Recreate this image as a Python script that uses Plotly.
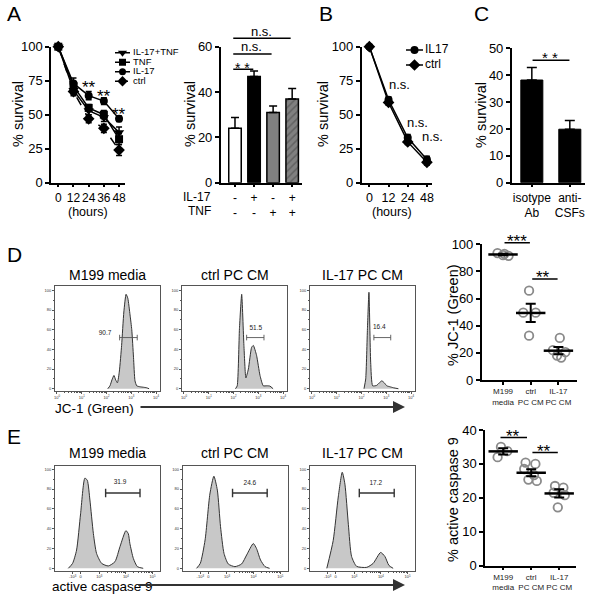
import math
import plotly.graph_objects as go

W, H = 596, 600
FONT = "Liberation Sans, Arial, Helvetica, sans-serif"


def fx(p):
    return p / W


def fy(p):
    return 1 - p / H


# ======================= DATA =======================
# Panel A – time course (% survival)
hours_A = [0, 12, 24, 36, 48]
A_il17tnf = [100, 68, 53, 48, 37]
A_il17tnf_err = [0, 3, 3, 3, 4]
A_tnf = [100, 71, 55, 50, 32]
A_tnf_err = [0, 3, 2.5, 3, 4]
A_il17 = [100, 73, 64, 60, 47]
A_il17_err = [0, 4, 3, 2.5, 2]
A_ctrl = [100, 67, 47, 40, 24]
A_ctrl_err = [0, 3, 3, 3, 4]
A_star_hours = [24, 36, 48]
A_star_y = [74.6, 67.8, 55]

# Panel A – bar chart at 48 h
barA_il17 = ["-", "+", "-", "+"]
barA_tnf = ["-", "-", "+", "+"]
barA_vals = [24, 46.8, 31, 36.9]
barA_err = [4.8, 2.5, 2.8, 4.7]
barA_colors = ["white", "black", "#808080", "#808080"]
barA_pattern = ["", "", "", "/"]
barA_sig_x0 = [-0.17, -0.17, -0.17]
barA_sig_x1 = [0.96, 1.92, 2.92]
barA_sig_y = [50, 56.8, 63.7]
barA_sig_txt = ["* *", "n.s.", "n.s."]
barA_sig_txt_y = [52.7, 60, 66.6]

# Panel B
hours_B = ["0", "12", "24", "48"]
B_il17 = [100, 61, 33, 17]
B_il17_err = [0, 2, 2.5, 2.5]
B_ctrl = [100, 59, 30, 15]
B_ctrl_err = [0, 2, 2, 2]
B_ns_x = [1.56, 2.52, 3.31]
B_ns_y = [72, 44, 34]

# Panel C
C_labels = ["isotype<br>Ab", "anti-<br>CSFs"]
C_vals = [38.2, 19.9]
C_err = [4.7, 3.2]
C_sig_y = 45.6
C_sig_txt_y = 48.7

# Panel D – JC-1 histograms (x = log10 fluorescence, y = % of max)
D_titles = ["M199 media", "ctrl PC CM", "IL-17 PC CM"]
D1_log = [2.05, 2.14, 2.22, 2.3, 2.37, 2.44, 2.52, 2.61, 2.7, 2.79, 2.86, 2.95, 3.02, 3.09, 3.15, 3.22, 3.35, 3.5, 3.62, 3.72]
D1_pct = [0, 3, 9, 13.5, 9, 6, 18, 44, 78, 96, 92, 75, 60, 32, 8, 3, 2, 1.5, 1, 0]
D2_log = [2.08, 2.15, 2.24, 2.33, 2.42, 2.5, 2.6, 2.73, 2.8, 2.93, 3.07, 3.2, 3.35, 3.47, 3.6]
D2_pct = [0, 3, 61, 96, 44, 11, 20, 42, 44, 34, 13.5, 3, 3, 2.7, 0]
D3_log = [2.1, 2.17, 2.24, 2.3, 2.37, 2.45, 2.61, 2.72, 2.82, 2.92, 3.02, 3.15, 3.29, 3.49]
D3_pct = [0, 10, 61, 98, 27, 3, 3.4, 6, 8, 6, 3, 2, 1, 0]
D_gate_lbl = ["90.7", "51.5", "16.4"]
D_gate_lo = [2.53, 2.53, 2.5]
D_gate_hi = [3.24, 3.23, 3.18]
D_gate_y = [52, 52, 52]
D_gate_txt_x = [1.94, 2.9, 2.72]
D_gate_txt_y = [56, 61, 62]

# Panel D – % JC-1 (Green) dot plot
D_groups = ["M199<br>media", "ctrl<br>PC CM", "IL-17<br>PC CM"]
D_pts = [[93.5, 92.0, 91.5, 93.0], [65.8, 49.6, 49.6, 32.7], [31, 22, 20.5, 18, 16.5]]
D_pts_dx = [[-0.2, 0.0, 0.2, 0.05], [-0.06, -0.27, 0.18, -0.06], [0.05, -0.2, 0.25, -0.05, 0.1]]
D_mean = [92.5, 49.4, 21.6]
D_sem = [0.6, 6.7, 2.7]
D_sig_x0 = [0.0, 1.0]
D_sig_x1 = [0.97, 1.97]
D_sig_y = [101.2, 74.4]
D_sig_txt = ["***", "**"]
D_sig_txt_x = [0.5, 1.45]
D_sig_txt_y = [106.9, 79.8]

# Panel E – active caspase 9 histograms (x = biexponential display scale)
E_titles = ["M199 media", "ctrl PC CM", "IL-17 PC CM"]
E1_pos = [1.84, 2.0, 2.15, 2.3, 2.46, 2.55, 2.65, 2.78, 2.9, 3.09, 3.34, 3.59, 3.78, 4.0, 4.09, 4.15, 4.28, 4.43, 4.65]
E1_pct = [0, 5, 18.5, 55, 91, 89, 69, 35, 15, 5, 2.4, 6.7, 22, 38, 35, 25, 10, 1.7, 0]
E2_pos = [1.86, 2.0, 2.18, 2.36, 2.51, 2.64, 2.76, 2.89, 3.05, 3.3, 3.55, 3.74, 3.99, 4.11, 4.26, 4.43, 4.6]
E2_pct = [0, 5, 28.6, 75, 93, 79, 42, 15, 4.4, 1.7, 4.4, 13.5, 25, 20, 8.4, 1.7, 0]
E3_pos = [1.97, 2.21, 2.4, 2.55, 2.65, 2.78, 2.9, 3.09, 3.47, 3.71, 3.99, 4.15, 4.3, 4.46]
E3_pct = [0, 28, 72, 97, 85, 44, 12, 2, 1, 5, 16, 12, 3, 0]
E_gate_lbl = ["31.9", "24.6", "17.2"]
E_gate_lo = [3.24, 3.21, 3.19]
E_gate_hi = [4.53, 4.51, 4.5]
E_gate_y = [76, 76, 76]
E_gate_txt_x = [3.78, 3.86, 3.81]
E_gate_txt_y = [86.5, 86, 86]
E_tickvals = [2.0, 2.3, 3, 4, 5]
E_ticktext = ["-10<sup>3</sup>", "0", "10<sup>3</sup>", "10<sup>4</sup>", "10<sup>5</sup>"]

# Panel E – % active caspase 9 dot plot
E_groups = ["M199<br>media", "ctrl<br>PC CM", "IL-17<br>PC CM"]
E_pts = [[35, 33.8, 32], [30.4, 30.0, 28.5, 26.7, 25.4, 25.0], [23.5, 23.0, 21.5, 20.8, 17.2]]
E_pts_dx = [[-0.08, 0.15, -0.2], [-0.2, 0.15, -0.25, 0.1, -0.1, 0.2], [-0.15, 0.15, -0.2, 0.2, -0.05]]
E_mean = [33.7, 27.4, 21.3]
E_sem = [0.9, 1.0, 1.2]
E_sig_x0 = [-0.15, 0.99]
E_sig_x1 = [0.85, 1.95]
E_sig_y = [37.8, 33.4]
E_sig_txt = ["**", "**"]
E_sig_txt_x = [0.35, 1.47]
E_sig_txt_y = [39.8, 35.6]

# ======================= FIGURE =======================
fig = go.Figure()
layout = {}
annotations = []
geom = {}


def key(n):
    return "" if n == 1 else str(n)


BASE = dict(showline=True, linecolor="black", linewidth=1.5, ticks="outside", ticklen=4,
            tickwidth=1.5, tickcolor="black", showgrid=False, zeroline=False,
            tickfont=dict(size=13, color="black", family=FONT), fixedrange=True,
            automargin=False, tickangle=0)

HIST = dict(showline=True, mirror=True, linecolor="#555", linewidth=0.8, ticks="outside",
            ticklen=2, tickwidth=0.6, tickcolor="#555", showgrid=False, zeroline=False,
            tickfont=dict(size=4, color="#333", family=FONT), fixedrange=True,
            automargin=False, tickangle=0)


def add_axes(n, xpx, ypx, xr, yr, base=BASE, xkw=None, ykw=None):
    k = key(n)
    geom[n] = (xpx, ypx, xr, yr)
    xa = dict(base, domain=[fx(xpx[0]), fx(xpx[1])], range=xr, anchor="y" + k)
    ya = dict(base, domain=[fy(ypx[1]), fy(ypx[0])], range=yr, anchor="x" + k)
    if xkw:
        xa.update(xkw)
    if ykw:
        ya.update(ykw)
    layout["xaxis" + k] = xa
    layout["yaxis" + k] = ya


def add_overlay(n_main, n_ov, ext_top, ext_right=None):
    """Invisible axes with the same scale as n_main but extended upward/rightward,
    so that annotations above the plotted range stay visible."""
    xpx, ypx, xr, yr = geom[n_main]
    upp_y = (yr[1] - yr[0]) / (ypx[1] - ypx[0])
    new_yr = [yr[0], yr[0] + (ypx[1] - ext_top) * upp_y]
    new_xpx = xpx
    new_xr = xr
    if ext_right is not None:
        upp_x = (xr[1] - xr[0]) / (xpx[1] - xpx[0])
        new_xpx = (xpx[0], ext_right)
        new_xr = [xr[0], xr[0] + (ext_right - xpx[0]) * upp_x]
    add_axes(n_ov, new_xpx, (ext_top, ypx[1]), new_xr, new_yr,
             xkw=dict(visible=False), ykw=dict(visible=False))


def refs(n):
    k = key(n)
    return dict(xaxis="x" + k, yaxis="y" + k)


def ann_text(n, x, y, text, size=13, star=False, **kw):
    k = key(n)
    d = dict(x=x, y=y, xref="x" + k, yref="y" + k, text=text, showarrow=False,
             font=dict(size=size, color="black", family=FONT))
    if star:
        d["yshift"] = -0.36 * size
    d.update(kw)
    annotations.append(d)


def sig_line(n, x0, x1, y, width=1.5):
    k = key(n)
    annotations.append(dict(x=x1, y=y, ax=x0, ay=y, xref="x" + k, yref="y" + k,
                            axref="x" + k, ayref="y" + k, showarrow=True, arrowhead=0,
                            arrowwidth=width, arrowcolor="black", text="",
                            standoff=0, startstandoff=0))


def paper_text(x, y, text, size=13, angle=0, xanchor="center", color="black"):
    annotations.append(dict(x=fx(x), y=fy(y), xref="paper", yref="paper", text=text,
                            showarrow=False, textangle=angle, xanchor=xanchor,
                            yanchor="middle", font=dict(size=size, color=color, family=FONT)))


# ---------- Panel A: time course ----------
add_axes(1, (51, 125), (46.7, 182.7), [-5.77, 52.7], [0, 100],
         xkw=dict(tickvals=hours_A, ticklen=3, tickfont=dict(size=12, color="black", family=FONT)),
         ykw=dict(tickvals=[0, 25, 50, 75, 100]))
A_series = [
    ("ctrl", A_ctrl, A_ctrl_err, "diamond", "dash", 9),
    ("TNF", A_tnf, A_tnf_err, "square", "solid", 8),
    ("IL-17+TNF", A_il17tnf, A_il17tnf_err, "triangle-down", "solid", 9),
    ("IL-17", A_il17, A_il17_err, "circle", "solid", 8),
]
for name, vals, err, sym, dash, sz in A_series:
    fig.add_trace(go.Scatter(
        x=hours_A, y=vals, mode="lines+markers", name=name, cliponaxis=False,
        line=dict(color="black", width=1.5, dash=dash),
        marker=dict(symbol=sym, size=sz, color="black"),
        error_y=dict(type="data", array=err, color="black", thickness=1.5, width=3),
        **refs(1)))
for hx, hy in zip(A_star_hours, A_star_y):
    ann_text(1, hx, hy, "**", size=17, star=True)

# legend for A (own invisible axes)
add_axes(13, (115, 175), (48, 86), [0, 60], [3.5, -0.5],
         xkw=dict(visible=False), ykw=dict(visible=False))
A_legend = [
    ("IL-17+TNF", "triangle-down", "solid", 8),
    ("TNF", "square", "solid", 7),
    ("IL-17", "circle", "solid", 7),
    ("ctrl", "diamond", "dash", 8),
]
for i, (name, sym, dash, sz) in enumerate(A_legend):
    fig.add_trace(go.Scatter(x=[0, 15], y=[i, i], mode="lines",
                             line=dict(color="black", width=1.5,
                                       dash="3px,2px" if dash == "dash" else "solid"),
                             **refs(13)))
    fig.add_trace(go.Scatter(x=[7.5], y=[i], mode="markers", cliponaxis=False,
                             marker=dict(symbol=sym, size=sz, color="black"), **refs(13)))
fig.add_trace(go.Scatter(x=[18] * 4, y=list(range(4)), mode="text",
                         text=[a[0] for a in A_legend], textposition="middle right",
                         cliponaxis=False,
                         textfont=dict(size=9.5, color="black", family=FONT), **refs(13)))
paper_text(88, 212, "(hours)", size=12.5)
paper_text(18, 114, "% survival", size=14.5, angle=-90)

# ---------- Panel A: bars ----------
add_axes(2, (220.7, 301.7), (46.7, 182.7), [-0.75, 3.5], [0, 60],
         xkw=dict(tickvals=[0, 1, 2, 3],
                  ticktext=[f"{a}<br>{b}" for a, b in zip(barA_il17, barA_tnf)],
                  tickfont=dict(size=12, color="black", family=FONT), ticklen=3),
         ykw=dict(tickvals=[0, 20, 40, 60]))
fig.add_trace(go.Bar(
    x=[0, 1, 2, 3], y=barA_vals, width=0.655,
    marker=dict(color=barA_colors, line=dict(color="black", width=1.5),
                pattern=dict(shape=barA_pattern, fgcolor="black", bgcolor="#808080",
                             size=5, solidity=0.3)),
    error_y=dict(type="data", array=barA_err, arrayminus=[0] * 4, symmetric=False,
                 color="black", thickness=1.5, width=4),
    **refs(2)))
add_overlay(2, 15, 15)
for x0, x1, y, t, ty in zip(barA_sig_x0, barA_sig_x1, barA_sig_y, barA_sig_txt, barA_sig_txt_y):
    sig_line(15, x0, x1, y)
    ann_text(15, (x0 + x1) / 2, ty, t, size=14 if t.startswith("*") else 13,
             star=t.startswith("*"))
paper_text(213, 197, "IL-17", size=12, xanchor="right")
paper_text(213, 211, "TNF", size=12, xanchor="right")
paper_text(190, 114, "% survival", size=14.5, angle=-90)

# ---------- Panel B ----------
add_axes(3, (361.7, 431.7), (46.7, 182.7), [-0.4, 3.25], [0, 100],
         xkw=dict(tickvals=[0, 1, 2, 3], ticktext=hours_B, ticklen=3,
                  tickfont=dict(size=12.5, color="black", family=FONT)),
         ykw=dict(tickvals=[0, 25, 50, 75, 100]))
for vals, err, sym, sz in [(B_ctrl, B_ctrl_err, "diamond", 9), (B_il17, B_il17_err, "circle", 8)]:
    fig.add_trace(go.Scatter(
        x=[0, 1, 2, 3], y=vals, mode="lines+markers", cliponaxis=False,
        line=dict(color="black", width=1.5),
        marker=dict(symbol=sym, size=sz, color="black"),
        error_y=dict(type="data", array=err, color="black", thickness=1.5, width=3),
        **refs(3)))
add_overlay(3, 16, 40, ext_right=460)
for nx, ny in zip(B_ns_x, B_ns_y):
    ann_text(16, nx, ny, "n.s.", size=13)
add_axes(14, (406, 466), (42.5, 72.5), [0, 60], [1.5, -0.5],
         xkw=dict(visible=False), ykw=dict(visible=False))
B_legend = [("IL17", "circle", 8), ("ctrl", "diamond", 9)]
for i, (name, sym, sz) in enumerate(B_legend):
    fig.add_trace(go.Scatter(x=[0, 17], y=[i, i], mode="lines",
                             line=dict(color="black", width=1.5), **refs(14)))
    fig.add_trace(go.Scatter(x=[8.5], y=[i], mode="markers", cliponaxis=False,
                             marker=dict(symbol=sym, size=sz, color="black"), **refs(14)))
fig.add_trace(go.Scatter(x=[19] * 2, y=[0, 1], mode="text", text=[b[0] for b in B_legend],
                         textposition="middle right", cliponaxis=False,
                         textfont=dict(size=12, color="black", family=FONT), **refs(14)))
paper_text(392, 212, "(hours)", size=12.5)
paper_text(323, 114, "% survival", size=14.5, angle=-90)

# ---------- Panel C ----------
add_axes(4, (511.7, 585), (48.3, 182.7), [-0.53, 1.4], [0, 50],
         xkw=dict(tickvals=[0, 1], ticktext=C_labels, ticklen=3,
                  tickfont=dict(size=12, color="black", family=FONT)),
         ykw=dict(tickvals=[0, 10, 20, 30, 40, 50]))
fig.add_trace(go.Bar(
    x=[0, 1], y=C_vals, width=0.58, marker=dict(color="black", line=dict(color="black", width=1)),
    error_y=dict(type="data", array=C_err, arrayminus=[0, 0], symmetric=False,
                 color="black", thickness=1.5, width=5),
    **refs(4)))
add_overlay(4, 17, 30)
sig_line(17, -0.02, 0.99, C_sig_y)
ann_text(17, 0.485, C_sig_txt_y, "* *", size=15, star=True)
paper_text(481, 115, "% survival", size=14.5, angle=-90)

# ---------- Panel D histograms ----------
D_boxes = [(55, 160), (182, 287), (310, 415)]
D_curves = [(D1_log, D1_pct), (D2_log, D2_pct), (D3_log, D3_pct)]
minor_log = [k * 10 ** d for d in range(0, 4) for k in range(2, 10)]
for i, (bx, (lx, ly)) in enumerate(zip(D_boxes, D_curves)):
    n = 5 + i
    add_axes(n, bx, (286, 391.3), [-0.08, 4.16], [-2.6, 104.4], base=HIST,
             xkw=dict(type="log", tickvals=[1, 10, 100, 1000, 10000],
                      ticktext=["10<sup>0</sup>", "10<sup>1</sup>", "10<sup>2</sup>",
                                "10<sup>3</sup>", "10<sup>4</sup>"],
                      minor=dict(ticks="outside", ticklen=1.2, tickwidth=0.5,
                                 tickcolor="#555", tickvals=minor_log)),
             ykw=dict(tickvals=[0, 20, 40, 60, 80, 100],
                      minor=dict(ticks="outside", ticklen=1.2, tickwidth=0.5,
                                 tickcolor="#555", tickvals=[10, 30, 50, 70, 90])))
    fig.add_trace(go.Scatter(
        x=[10 ** v for v in lx], y=ly, mode="lines", fill="tozeroy", fillcolor="#c8c8c8",
        line=dict(color="#333", width=1, shape="spline", smoothing=0.5), **refs(n)))
    fig.add_trace(go.Scatter(
        x=[10 ** D_gate_lo[i], 10 ** D_gate_hi[i]], y=[D_gate_y[i]] * 2, mode="lines+markers",
        line=dict(color="#555", width=0.9),
        marker=dict(symbol="line-ns", size=4, line=dict(color="#555", width=0.9)),
        **refs(n)))
    fig.add_trace(go.Scatter(
        x=[10 ** D_gate_txt_x[i]], y=[D_gate_txt_y[i]], mode="text", text=[D_gate_lbl[i]],
        textfont=dict(size=6.5, color="#222", family=FONT), **refs(n)))
    paper_text((bx[0] + bx[1]) / 2, 275, D_titles[i], size=14)
paper_text(53, 408.5, "JC-1 (Green)", size=13.5, xanchor="left")
annotations.append(dict(x=fx(405), y=fy(407), xref="paper", yref="paper", ax=-(405 - 139),
                        ay=0, axref="pixel", ayref="pixel", text="", showarrow=True,
                        arrowhead=2, arrowsize=1.2, arrowwidth=2, arrowcolor="#333",
                        standoff=0, startstandoff=0))

# ---------- Panel D dot plot ----------
add_axes(8, (481.7, 576.7), (244.3, 380), [-0.77, 2.66], [0, 100],
         xkw=dict(tickvals=[0, 1, 2], ticktext=D_groups, ticklen=3,
                  tickfont=dict(size=8, color="#222", family=FONT)),
         ykw=dict(tickvals=[0, 20, 40, 60, 80, 100]))
for g, (vals, dxs) in enumerate(zip(D_pts, D_pts_dx)):
    fig.add_trace(go.Scatter(
        x=[g + d for d in dxs], y=vals, mode="markers", cliponaxis=False,
        marker=dict(symbol="circle-open", size=8.5, color="#8a8a8a", line=dict(width=1.8)),
        **refs(8)))
fig.add_trace(go.Scatter(
    x=[0, 1, 2], y=D_mean, mode="markers", cliponaxis=False,
    marker=dict(symbol="line-ew", size=21, line=dict(width=2.5, color="black")),
    error_y=dict(type="data", array=D_sem, color="black", thickness=2, width=5),
    **refs(8)))
add_overlay(8, 18, 220)
for x0, x1, y, t, tx, ty in zip(D_sig_x0, D_sig_x1, D_sig_y, D_sig_txt, D_sig_txt_x, D_sig_txt_y):
    sig_line(18, x0, x1, y)
    ann_text(18, tx, ty, t, size=17, star=True)
paper_text(453, 315, "% JC-1 (Green)", size=14.5, angle=-90)

# ---------- Panel E histograms ----------
E_boxes = [(55, 160), (182.7, 287.7), (310, 415)]
E_curves = [(E1_pos, E1_pct), (E2_pos, E2_pct), (E3_pos, E3_pct)]
minor_biex = [d + math.log10(k) for d in (3, 4) for k in range(2, 10)]
for i, (bx, (px_, py_)) in enumerate(zip(E_boxes, E_curves)):
    n = 9 + i
    add_axes(n, bx, (466, 570.7), [1.34, 5.28], [-2.4, 103.3], base=HIST,
             xkw=dict(tickvals=E_tickvals, ticktext=E_ticktext,
                      minor=dict(ticks="outside", ticklen=1.2, tickwidth=0.5,
                                 tickcolor="#555", tickvals=minor_biex)),
             ykw=dict(tickvals=[0, 20, 40, 60, 80, 100],
                      minor=dict(ticks="outside", ticklen=1.2, tickwidth=0.5,
                                 tickcolor="#555", tickvals=[10, 30, 50, 70, 90])))
    fig.add_trace(go.Scatter(
        x=px_, y=py_, mode="lines", fill="tozeroy", fillcolor="#c8c8c8",
        line=dict(color="#333", width=1, shape="spline", smoothing=0.6), **refs(n)))
    fig.add_trace(go.Scatter(
        x=[E_gate_lo[i], E_gate_hi[i]], y=[E_gate_y[i]] * 2, mode="lines+markers",
        line=dict(color="#333", width=1.4),
        marker=dict(symbol="line-ns", size=6, line=dict(color="#333", width=1.4)),
        **refs(n)))
    fig.add_trace(go.Scatter(
        x=[E_gate_txt_x[i]], y=[E_gate_txt_y[i]], mode="text", text=[E_gate_lbl[i]],
        textfont=dict(size=6.5, color="#222", family=FONT), **refs(n)))
    paper_text((bx[0] + bx[1]) / 2, 453, E_titles[i], size=14)
paper_text(50, 586, "active caspase 9", size=13.5, xanchor="left")
annotations.append(dict(x=fx(405), y=fy(585), xref="paper", yref="paper", ax=-(405 - 137),
                        ay=0, axref="pixel", ayref="pixel", text="", showarrow=True,
                        arrowhead=2, arrowsize=1.2, arrowwidth=2, arrowcolor="#333",
                        standoff=0, startstandoff=0))

# ---------- Panel E dot plot ----------
add_axes(12, (485, 576), (430, 565.7), [-0.65, 2.6], [0, 40],
         xkw=dict(tickvals=[0, 1, 2], ticktext=E_groups, ticklen=3,
                  tickfont=dict(size=8, color="#222", family=FONT)),
         ykw=dict(tickvals=[0, 10, 20, 30, 40]))
for g, (vals, dxs) in enumerate(zip(E_pts, E_pts_dx)):
    fig.add_trace(go.Scatter(
        x=[g + d for d in dxs], y=vals, mode="markers", cliponaxis=False,
        marker=dict(symbol="circle-open", size=8.5, color="#8a8a8a", line=dict(width=1.8)),
        **refs(12)))
fig.add_trace(go.Scatter(
    x=[0, 1, 2], y=E_mean, mode="markers", cliponaxis=False,
    marker=dict(symbol="line-ew", size=21, line=dict(width=2.5, color="black")),
    error_y=dict(type="data", array=E_sem, color="black", thickness=2, width=5),
    **refs(12)))
add_overlay(12, 19, 415)
for x0, x1, y, t, tx, ty in zip(E_sig_x0, E_sig_x1, E_sig_y, E_sig_txt, E_sig_txt_x, E_sig_txt_y):
    sig_line(19, x0, x1, y)
    ann_text(19, tx, ty, t, size=17, star=True)
paper_text(453, 500, "% active caspase 9", size=14.5, angle=-90)

# ---------- panel letters ----------
for letter, lx, ly in [("A", 14, 14), ("B", 326, 14), ("C", 481, 14), ("D", 14, 254), ("E", 14, 436)]:
    paper_text(lx, ly, letter, size=21)

fig.update_layout(
    width=W, height=H, margin=dict(l=0, r=0, t=0, b=0),
    paper_bgcolor="white", plot_bgcolor="rgba(0,0,0,0)", showlegend=False,
    font=dict(family=FONT, color="black"), annotations=annotations, **layout)

fig.write_html("out.html", config={"displayModeBar": False},
               post_script="document.body.style.margin='0px';")
